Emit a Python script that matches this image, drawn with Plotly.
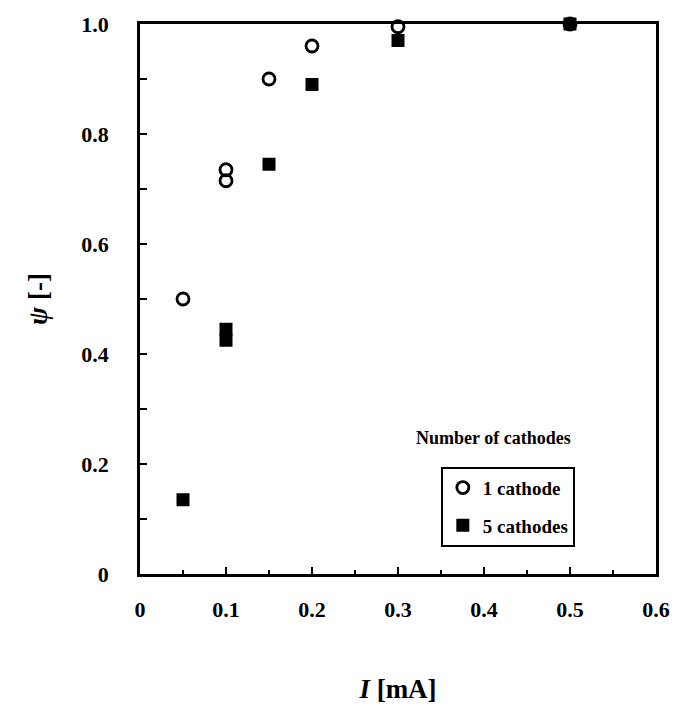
import plotly.graph_objects as go

# Current I [mA] and fraction psi [-] for each cathode configuration
current_one = [0.05, 0.10, 0.10, 0.15, 0.20, 0.30, 0.50]
psi_one = [0.50, 0.715, 0.735, 0.90, 0.96, 0.995, 1.00]

current_five = [0.05, 0.10, 0.10, 0.15, 0.20, 0.30, 0.50]
psi_five = [0.135, 0.425, 0.445, 0.745, 0.89, 0.97, 1.00]

x_ticks = [0, 0.1, 0.2, 0.3, 0.4, 0.5, 0.6]
x_tick_labels = ["0", "0.1", "0.2", "0.3", "0.4", "0.5", "0.6"]
y_ticks = [0, 0.2, 0.4, 0.6, 0.8, 1.0]
y_tick_labels = ["0", "0.2", "0.4", "0.6", "0.8", "1.0"]

SERIF = "Liberation Serif, Times New Roman, serif"

fig = go.Figure()
fig.add_trace(go.Scatter(
    x=current_one, y=psi_one, mode="markers", name="1 cathode", legendgroup="one",
    marker=dict(symbol="circle-open", size=12, color="black", line=dict(width=2.8, color="black")),
    cliponaxis=False,
))
fig.add_trace(go.Scatter(
    x=current_five, y=psi_five, mode="markers", name="5 cathodes", legendgroup="five",
    marker=dict(symbol="square", size=13, color="black"),
    cliponaxis=False,
))

fig.update_layout(
    width=682, height=716,
    margin=dict(l=140, r=19, t=24, b=142),
    paper_bgcolor="white", plot_bgcolor="white",
    font=dict(family=SERIF, color="black"),
    showlegend=True,
    legend=dict(
        x=0.583, y=0.195, xanchor="left", yanchor="top",
        bgcolor="white", bordercolor="black", borderwidth=2,
        font=dict(family=SERIF, size=19, color="black", weight="bold"),
        itemwidth=30, tracegroupgap=10, traceorder="grouped",
    ),
    xaxis=dict(
        range=[0, 0.6], tickmode="array", tickvals=x_ticks, ticktext=x_tick_labels,
        showline=True, linecolor="black", linewidth=2.5, mirror=True,
        ticks="inside", ticklen=7, tickwidth=2, tickcolor="black",
        minor=dict(dtick=0.05, ticks="inside", ticklen=4, tickwidth=2, tickcolor="black"),
        showgrid=False, zeroline=False,
        tickfont=dict(family=SERIF, size=22, color="black", weight="bold"),
        ticklabelstandoff=14,
        title=dict(text="<i>I</i> [mA]", font=dict(family=SERIF, size=27, color="black", weight="bold"), standoff=58),
    ),
    yaxis=dict(
        range=[0, 1.0], tickmode="array", tickvals=y_ticks, ticktext=y_tick_labels,
        showline=True, linecolor="black", linewidth=2.5, mirror=True,
        ticks="inside", ticklen=7, tickwidth=2, tickcolor="black",
        minor=dict(dtick=0.1, ticks="inside", ticklen=7, tickwidth=2, tickcolor="black"),
        showgrid=False, zeroline=False,
        tickfont=dict(family=SERIF, size=22, color="black", weight="bold"),
        ticklabelstandoff=24,
        title=dict(text="<i>ψ</i> [-]", font=dict(family=SERIF, size=27, color="black", weight="bold"), standoff=26),
    ),
    annotations=[dict(
        text="Number of cathodes", xref="paper", yref="paper",
        x=0.685, y=0.248, xanchor="center", yanchor="middle", showarrow=False,
        font=dict(family=SERIF, size=18, color="black", weight="bold"),
    )],
)

fig.write_html("out.html")
